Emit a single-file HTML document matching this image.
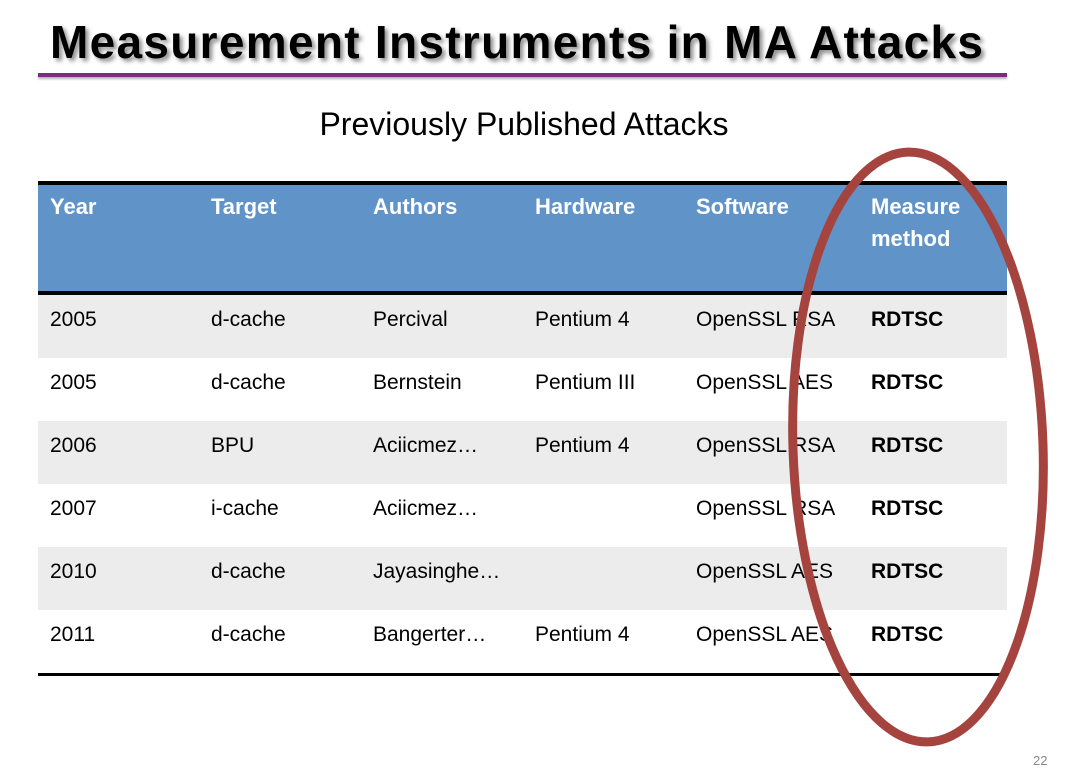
<!DOCTYPE html>
<html><head><meta charset="utf-8"><style>
body{margin:0;width:1070px;height:773px;background:#fff;position:relative;overflow:hidden;font-family:"Liberation Sans",sans-serif}
.t{position:absolute;white-space:nowrap}
#title{left:50px;top:15px;font-size:46px;font-weight:bold;letter-spacing:1.3px;text-shadow:3px 3px 4px rgba(0,0,0,.45)}
#rule{position:absolute;left:38px;top:73px;width:969px;height:4px;background:#7c2a82;box-shadow:0 2px 2px rgba(0,0,0,.3)}
#sub{left:0;width:1048px;text-align:center;top:106px;font-size:32px}
table{position:absolute;left:38px;top:181px;width:969px;border-collapse:collapse;font-size:21px}
th{background:#6094c9;color:#fff;text-align:left;vertical-align:top;font-weight:bold;font-size:22px;height:100px;padding:6px 0 0 12px;border-top:4px solid #000;border-bottom:4px solid #000;line-height:32px}
td{height:49px;padding:0 0 14px 12px;color:#000}
tr:nth-child(odd) td{background:#ececec}
tr:last-child td{border-bottom:3px solid #000}
#pg{left:1033px;top:753px;font-size:13px;color:#888}
</style></head><body>
<div class="t" id="title">Measurement Instruments in MA Attacks</div>
<div id="rule"></div>
<div class="t" id="sub">Previously Published Attacks</div>
<table>
<colgroup><col style="width:161px"><col style="width:162px"><col style="width:162px"><col style="width:161px"><col style="width:175px"><col></colgroup>
<thead><tr><th>Year</th><th>Target</th><th>Authors</th><th>Hardware</th><th>Software</th><th>Measure<br>method</th></tr></thead>
<tbody>
<tr><td>2005</td><td>d-cache</td><td>Percival</td><td>Pentium 4</td><td>OpenSSL RSA</td><td><b>RDTSC</b></td></tr>
<tr><td>2005</td><td>d-cache</td><td>Bernstein</td><td>Pentium III</td><td>OpenSSL AES</td><td><b>RDTSC</b></td></tr>
<tr><td>2006</td><td>BPU</td><td>Aciicmez…</td><td>Pentium 4</td><td>OpenSSL RSA</td><td><b>RDTSC</b></td></tr>
<tr><td>2007</td><td>i-cache</td><td>Aciicmez…</td><td></td><td>OpenSSL RSA</td><td><b>RDTSC</b></td></tr>
<tr><td>2010</td><td>d-cache</td><td>Jayasinghe…</td><td></td><td>OpenSSL AES</td><td><b>RDTSC</b></td></tr>
<tr><td>2011</td><td>d-cache</td><td>Bangerter…</td><td>Pentium 4</td><td>OpenSSL AES</td><td><b>RDTSC</b></td></tr>
</tbody></table>
<svg width="1070" height="773" style="position:absolute;left:0;top:0">
<ellipse cx="918" cy="447" rx="125" ry="295" transform="rotate(-2 918 447)" fill="none" stroke="#a5443f" stroke-width="9"/>
</svg>
<div class="t" id="pg">22</div>
</body></html>
